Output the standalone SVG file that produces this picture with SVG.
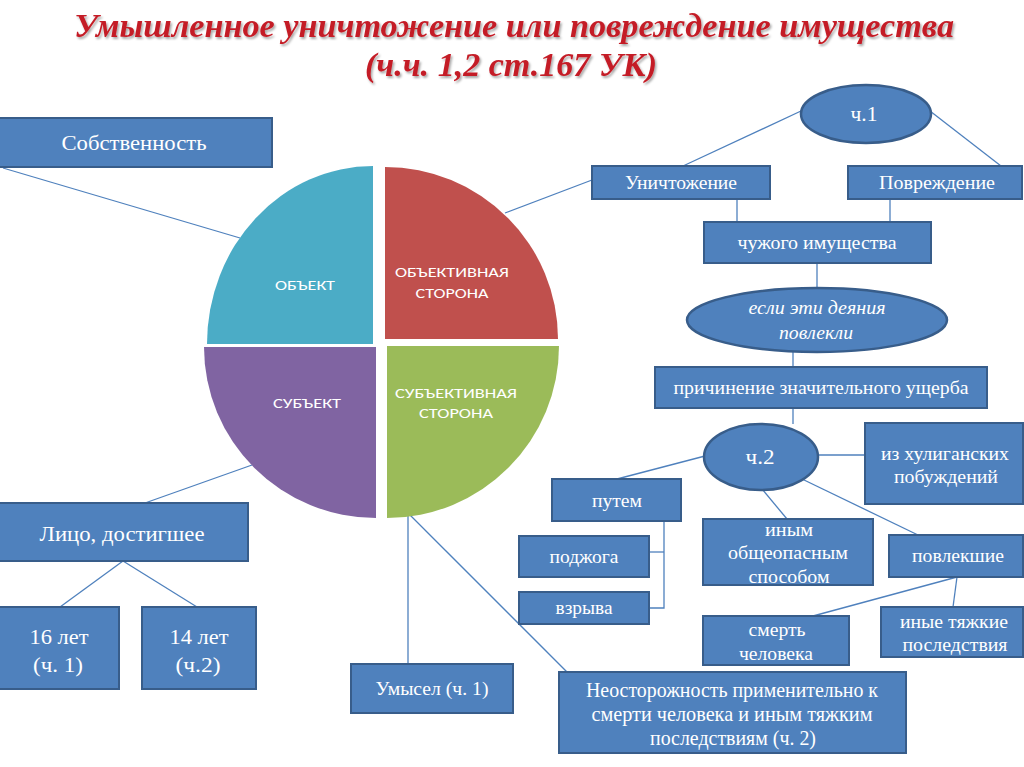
<svg xmlns="http://www.w3.org/2000/svg" width="1024" height="767" viewBox="0 0 1024 767">
<defs>
<style>
.box{fill:#4F81BD;stroke:#385D8A;stroke-width:2}
.ell{fill:#4F81BD;stroke:#385D8A;stroke-width:2.5}
.t{font-family:"Liberation Serif","Times New Roman",serif;fill:#FFFFFF;font-size:18px;text-anchor:middle}
.tl{font-size:21px}
.ti{font-style:italic}
.p{font-family:Calibri,"Liberation Sans",Arial,sans-serif;fill:#FFFFFF;font-size:15px;text-anchor:middle}
.ln{stroke:#4F81BD;stroke-width:1.3;fill:none}
.title{font-family:"Liberation Serif","Times New Roman",serif;font-weight:bold;font-style:italic;font-size:34px;fill:#C41E28;text-anchor:middle}
</style>
<filter id="sh" x="-5%" y="-20%" width="110%" height="150%">
<feDropShadow dx="1.5" dy="2" stdDeviation="1.2" flood-color="#000" flood-opacity="0.35"/>
</filter>
</defs>
<rect width="1024" height="767" fill="#FFFFFF"/>

<g id="title" filter="url(#sh)">
<text class="title" x="514" y="37" textLength="880" lengthAdjust="spacingAndGlyphs">Умышленное уничтожение или повреждение имущества</text>
<text class="title" x="511" y="76" textLength="292" lengthAdjust="spacingAndGlyphs">(ч.ч. 1,2 ст.167 УК)</text>
</g>

<g id="connectors">
<line class="ln" x1="3" y1="168" x2="240" y2="238"/>
<line class="ln" x1="505" y1="213" x2="592" y2="180"/>
<line class="ln" x1="801" y1="111" x2="683" y2="166"/>
<line class="ln" x1="930" y1="111" x2="1001" y2="166"/>
<line class="ln" x1="737" y1="199" x2="737" y2="222"/>
<line class="ln" x1="890" y1="199" x2="890" y2="222"/>
<line class="ln" x1="817" y1="263" x2="817" y2="288"/>
<line class="ln" x1="793" y1="352" x2="793" y2="367"/>
<line class="ln" x1="793" y1="408" x2="793" y2="424"/>
<line class="ln" x1="818" y1="455" x2="865" y2="455"/>
<line class="ln" x1="705" y1="456" x2="617" y2="479"/>
<line class="ln" x1="762" y1="489" x2="787" y2="519"/>
<line class="ln" x1="802" y1="479" x2="918" y2="535"/>
<polyline class="ln" points="664,521 664,608 649,608"/>
<line class="ln" x1="649" y1="552" x2="664" y2="552"/>
<line class="ln" x1="957" y1="577" x2="813" y2="616"/>
<line class="ln" x1="957" y1="577" x2="953" y2="607"/>
<line class="ln" x1="252" y1="465" x2="145" y2="503"/>
<line class="ln" x1="123" y1="561" x2="60" y2="607"/>
<line class="ln" x1="123" y1="561" x2="197" y2="607"/>
<line class="ln" x1="408" y1="513" x2="408" y2="664"/>
<line class="ln" x1="408" y1="513" x2="567" y2="672"/>
</g>

<g id="pie-object">
<path d="M373,344 L207,344 A166,178 0 0 1 373,166 Z" fill="#4BACC6"/>
<text class="p" x="305" y="290" textLength="60" lengthAdjust="spacingAndGlyphs">ОБЪЕКТ</text>
</g>
<g id="pie-objective">
<path d="M385,339 L385,167 A173,172 0 0 1 558,339 Z" fill="#C0504D"/>
<text class="p" x="452" y="277" textLength="114" lengthAdjust="spacingAndGlyphs">ОБЪЕКТИВНАЯ</text>
<text class="p" x="452" y="298" textLength="73" lengthAdjust="spacingAndGlyphs">СТОРОНА</text>
</g>
<g id="pie-subject">
<path d="M376,347 L204,347 A172,171 0 0 0 376,518 Z" fill="#8064A2"/>
<text class="p" x="307" y="408" textLength="68" lengthAdjust="spacingAndGlyphs">СУБЪЕКТ</text>
</g>
<g id="pie-subjective">
<path d="M387,346 L559,346 A172,172 0 0 1 387,518 Z" fill="#9BBB59"/>
<text class="p" x="456" y="398" textLength="122" lengthAdjust="spacingAndGlyphs">СУБЪЕКТИВНАЯ</text>
<text class="p" x="456" y="418" textLength="74" lengthAdjust="spacingAndGlyphs">СТОРОНА</text>
</g>

<g id="sobstvennost">
<rect class="box" x="-2" y="118" width="274" height="49"/>
<text class="t tl" x="134" y="150" textLength="145" lengthAdjust="spacingAndGlyphs">Собственность</text>
</g>

<g id="ch1">
<ellipse class="ell" cx="866" cy="114" rx="65" ry="29"/>
<text class="t tl" x="864" y="121" textLength="27" lengthAdjust="spacingAndGlyphs">ч.1</text>
</g>
<g id="unichtozhenie">
<rect class="box" x="592" y="166" width="178" height="33"/>
<text class="t" x="681" y="189" textLength="112" lengthAdjust="spacingAndGlyphs">Уничтожение</text>
</g>
<g id="povrezhdenie">
<rect class="box" x="848" y="166" width="174" height="33"/>
<text class="t" x="937" y="189" textLength="116" lengthAdjust="spacingAndGlyphs">Повреждение</text>
</g>
<g id="chuzhogo">
<rect class="box" x="704" y="222" width="227" height="41"/>
<text class="t" x="817" y="249" textLength="159" lengthAdjust="spacingAndGlyphs">чужого имущества</text>
</g>
<g id="esli">
<ellipse class="ell" cx="817" cy="320" rx="130" ry="32"/>
<text class="t ti" x="817" y="314" textLength="137" lengthAdjust="spacingAndGlyphs">если эти деяния</text>
<text class="t ti" x="816" y="339" textLength="74" lengthAdjust="spacingAndGlyphs">повлекли</text>
</g>
<g id="prichinenie">
<rect class="box" x="655" y="367" width="332" height="41"/>
<text class="t" x="821" y="394" textLength="295" lengthAdjust="spacingAndGlyphs">причинение значительного ущерба</text>
</g>
<g id="ch2">
<ellipse class="ell" cx="761" cy="457" rx="57" ry="33"/>
<text class="t tl" x="760" y="464" textLength="29" lengthAdjust="spacingAndGlyphs">ч.2</text>
</g>
<g id="huligan">
<rect class="box" x="865" y="423" width="158" height="81"/>
<text class="t" x="945" y="460" textLength="128" lengthAdjust="spacingAndGlyphs">из хулиганских</text>
<text class="t" x="946" y="483" textLength="104" lengthAdjust="spacingAndGlyphs">побуждений</text>
</g>
<g id="putem">
<rect class="box" x="552" y="479" width="129" height="42"/>
<text class="t" x="617" y="507" textLength="50" lengthAdjust="spacingAndGlyphs">путем</text>
</g>
<g id="podzhoga">
<rect class="box" x="519" y="536" width="130" height="41"/>
<text class="t" x="584" y="563" textLength="69" lengthAdjust="spacingAndGlyphs">поджога</text>
</g>
<g id="vzryva">
<rect class="box" x="519" y="592" width="130" height="32"/>
<text class="t" x="584" y="614" textLength="57" lengthAdjust="spacingAndGlyphs">взрыва</text>
</g>
<g id="inym">
<rect class="box" x="703" y="519" width="170" height="66"/>
<text class="t" x="789" y="536" textLength="48" lengthAdjust="spacingAndGlyphs">иным</text>
<text class="t" x="788" y="559" textLength="120" lengthAdjust="spacingAndGlyphs">общеопасным</text>
<text class="t" x="789" y="583" textLength="81" lengthAdjust="spacingAndGlyphs">способом</text>
</g>
<g id="povlekshie">
<rect class="box" x="889" y="535" width="134" height="42"/>
<text class="t" x="958" y="562" textLength="92" lengthAdjust="spacingAndGlyphs">повлекшие</text>
</g>
<g id="smert">
<rect class="box" x="703" y="616" width="146" height="49"/>
<text class="t" x="777" y="636" textLength="57" lengthAdjust="spacingAndGlyphs">смерть</text>
<text class="t" x="776" y="660" textLength="74" lengthAdjust="spacingAndGlyphs">человека</text>
</g>
<g id="inye">
<rect class="box" x="881" y="607" width="142" height="50"/>
<text class="t" x="954" y="628" textLength="108" lengthAdjust="spacingAndGlyphs">иные тяжкие</text>
<text class="t" x="955" y="651" textLength="105" lengthAdjust="spacingAndGlyphs">последствия</text>
</g>
<g id="neostorozhnost">
<rect class="box" x="559" y="672" width="347" height="81"/>
<text class="t tl" x="732" y="697" textLength="292" lengthAdjust="spacingAndGlyphs">Неосторожность применительно к</text>
<text class="t tl" x="732" y="721" textLength="281" lengthAdjust="spacingAndGlyphs">смерти человека  и иным тяжким</text>
<text class="t tl" x="733" y="745" textLength="166" lengthAdjust="spacingAndGlyphs">последствиям (ч. 2)</text>
</g>
<g id="umysel">
<rect class="box" x="351" y="664" width="162" height="49"/>
<text class="t" x="432" y="695" textLength="113" lengthAdjust="spacingAndGlyphs">Умысел (ч. 1)</text>
</g>
<g id="lico">
<rect class="box" x="-2" y="503" width="250" height="58"/>
<text class="t tl" x="122" y="541" textLength="165" lengthAdjust="spacingAndGlyphs">Лицо, достигшее</text>
</g>
<g id="let16">
<rect class="box" x="-2" y="607" width="121" height="82"/>
<text class="t tl" x="59" y="644" textLength="59" lengthAdjust="spacingAndGlyphs">16 лет</text>
<text class="t tl" x="58" y="672" textLength="50" lengthAdjust="spacingAndGlyphs">(ч. 1)</text>
</g>
<g id="let14">
<rect class="box" x="142" y="607" width="114" height="82"/>
<text class="t tl" x="199" y="644" textLength="59" lengthAdjust="spacingAndGlyphs">14 лет</text>
<text class="t tl" x="198" y="672" textLength="45" lengthAdjust="spacingAndGlyphs">(ч.2)</text>
</g>
</svg>
